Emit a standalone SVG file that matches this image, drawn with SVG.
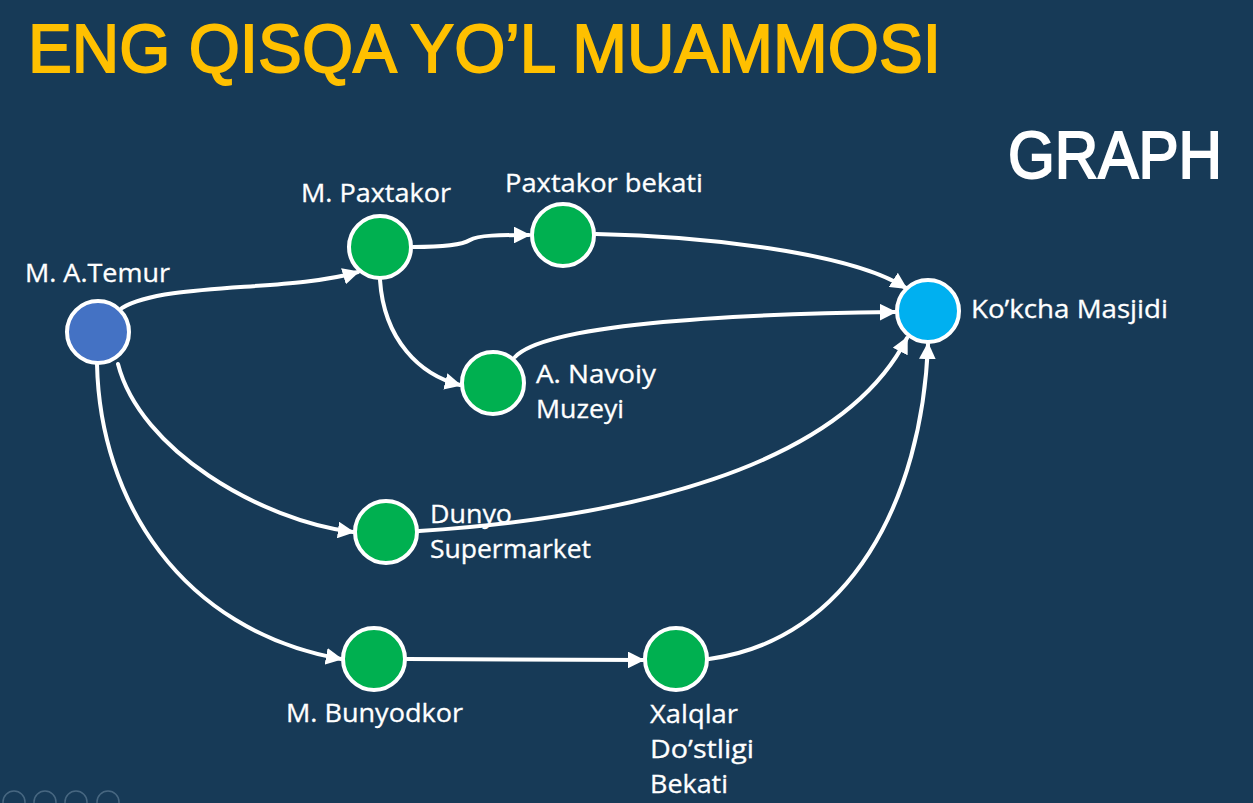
<svg xmlns="http://www.w3.org/2000/svg" width="1253" height="803" viewBox="0 0 1253 803">
  <defs>
    <marker id="arrow" viewBox="0 0 10 10" refX="9" refY="5" markerWidth="4.2" markerHeight="4.2" markerUnits="strokeWidth" orient="auto">
      <path d="M0,0 L10,5 L0,10 z" fill="#ffffff"/>
    </marker>
    <style>
      .bg { fill: #173a57; }
      .title { font-family: "Liberation Sans", Arial, sans-serif; font-size: 69px; fill: #ffc000; stroke: #ffc000; stroke-width: 1.8; }
      .head { font-family: "Liberation Sans", Arial, sans-serif; font-size: 66px; fill: #ffffff; stroke: #ffffff; stroke-width: 2; }
      .node { stroke: #ffffff; stroke-width: 4; }
      .start { fill: #4472c4; }
      .stop { fill: #00b050; }
      .goal { fill: #00b0f0; }
      .label { font-family: "Open Sans", Lato, sans-serif; font-size: 25px; fill: #ffffff; stroke: #ffffff; stroke-width: 0.3; }
      .edge { fill: none; stroke: #ffffff; stroke-width: 4; stroke-linecap: round; marker-end: url(#arrow); }
      .tool { fill: none; stroke: #5c7a93; stroke-width: 1.5; opacity: 0.7; }
    </style>
  </defs>

  <rect class="bg" x="0" y="0" width="1253" height="803"/>

  <text class="title" x="28" y="72" textLength="913" lengthAdjust="spacingAndGlyphs">ENG QISQA YO’L MUAMMOSI</text>
  <text class="head" x="1008" y="178" textLength="214" lengthAdjust="spacingAndGlyphs">GRAPH</text>

  <!-- connectors -->
  <g id="connectors">
    <path class="edge" d="M122,308 C165,282 290,292 358,272"/>
    <path class="edge" d="M413,247 C440,247 462,245 470,240 C478,235 500,235 529,235"/>
    <path class="edge" d="M596,234 C700,236 850,252 906,288"/>
    <path class="edge" d="M380,280 C384,340 420,375 460,385"/>
    <path class="edge" d="M515,357 C545,325 720,314 895,312"/>
    <path class="edge" d="M118,364 C140,450 260,520 353,532"/>
    <path class="edge" d="M419,531 C620,518 840,470 907,338"/>
    <path class="edge" d="M97,364 C100,500 180,630 341,659"/>
    <path class="edge" d="M407,659 L643,660"/>
    <path class="edge" d="M709,659 C850,640 922,500 928,344"/>
  </g>

  <g id="n-temur">
    <circle class="node start" cx="98" cy="332" r="31"/>
    <text class="label" x="25" y="282" textLength="145" lengthAdjust="spacingAndGlyphs">M. A.Temur</text>
  </g>
  <g id="n-paxtakor">
    <circle class="node stop" cx="380" cy="247" r="31"/>
    <text class="label" x="301" y="202" textLength="150" lengthAdjust="spacingAndGlyphs">M. Paxtakor</text>
  </g>
  <g id="n-paxtakor-bekati">
    <circle class="node stop" cx="563" cy="235" r="31"/>
    <text class="label" x="505" y="192" textLength="198" lengthAdjust="spacingAndGlyphs">Paxtakor bekati</text>
  </g>
  <g id="n-navoiy">
    <circle class="node stop" cx="493" cy="383" r="31"/>
    <text class="label" x="536" y="383" textLength="120" lengthAdjust="spacingAndGlyphs">A. Navoiy</text>
    <text class="label" x="536" y="418" textLength="88" lengthAdjust="spacingAndGlyphs">Muzeyi</text>
  </g>
  <g id="n-dunyo">
    <circle class="node stop" cx="386" cy="532" r="31"/>
    <text class="label" x="430" y="523" textLength="82" lengthAdjust="spacingAndGlyphs">Dunyo</text>
    <text class="label" x="430" y="558" textLength="161" lengthAdjust="spacingAndGlyphs">Supermarket</text>
  </g>
  <g id="n-bunyodkor">
    <circle class="node stop" cx="374" cy="659" r="31"/>
    <text class="label" x="286" y="722" textLength="177" lengthAdjust="spacingAndGlyphs">M. Bunyodkor</text>
  </g>
  <g id="n-xalqlar">
    <circle class="node stop" cx="676" cy="659" r="31"/>
    <text class="label" x="650" y="723" textLength="88" lengthAdjust="spacingAndGlyphs">Xalqlar</text>
    <text class="label" x="650" y="758" textLength="104" lengthAdjust="spacingAndGlyphs">Do’stligi</text>
    <text class="label" x="650" y="793" textLength="78" lengthAdjust="spacingAndGlyphs">Bekati</text>
  </g>
  <g id="n-kokcha">
    <circle class="node goal" cx="928" cy="311" r="31"/>
    <text class="label" x="971" y="318" textLength="197" lengthAdjust="spacingAndGlyphs">Ko’kcha Masjidi</text>
  </g>

  <!-- slideshow toolbar buttons -->
  <g id="toolbar">
    <circle class="tool" cx="14" cy="802" r="11"/>
    <circle class="tool" cx="45" cy="802" r="11"/>
    <circle class="tool" cx="76" cy="802" r="11"/>
    <circle class="tool" cx="108" cy="802" r="11"/>
  </g>
</svg>
